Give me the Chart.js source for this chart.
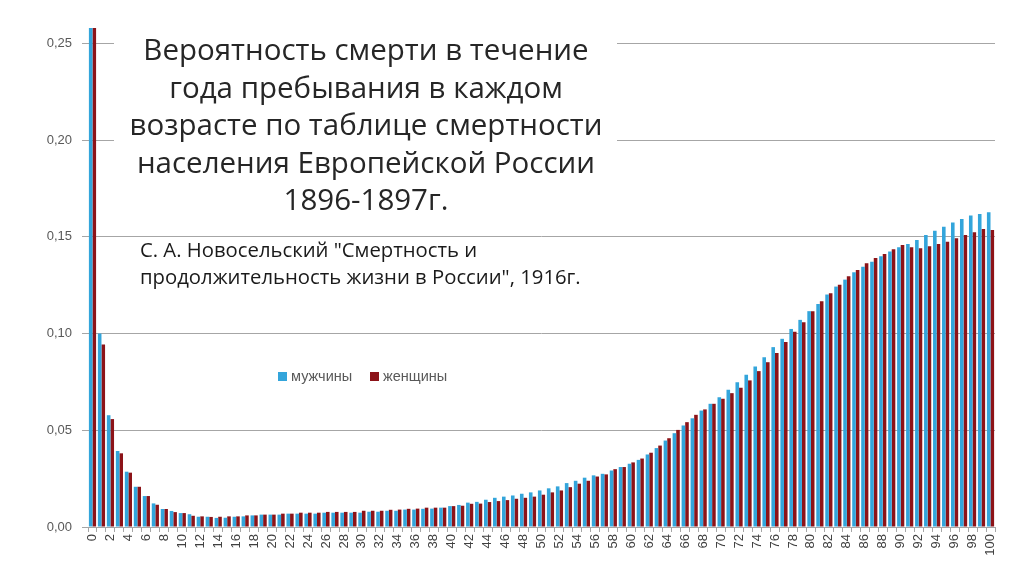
<!DOCTYPE html>
<html>
<head>
<meta charset="utf-8">
<script src="https://cdn.jsdelivr.net/npm/chart.js@4/dist/chart.umd.min.js"></script>
<style>
  body { margin: 0; background: #fff; }
  #wrap { position: relative; width: 1024px; height: 574px; }
  #titlebox { position: absolute; left: 114px; top: 28px; width: 503px; height: 200px; background: #fff; }
  #title { position: absolute; left: 100px; top: 30px; width: 532px; text-align: center;
    font-family: "Open Sans", sans-serif; font-size: 29.5px; line-height: 37.5px; color: #262626; }
  #source { position: absolute; left: 140px; top: 236px;
    font-family: "Open Sans", sans-serif; font-size: 20.3px; line-height: 27px; color: #1a1a1a; }
  #legend { position: absolute; left: 0; top: 368px; font-family: "Liberation Sans", Arial, sans-serif;
    font-size: 14.5px; color: #595959; white-space: nowrap; }
  #legend span.box { display: inline-block; width: 9px; height: 9px; margin-right: 4px; vertical-align: 0px; }
  #legend span.item { position: absolute; top: 0; }
</style>
</head>
<body>
<div id="wrap">
  <canvas id="myChart" width="1024" height="574"></canvas>
  <div id="titlebox"></div>
  <div id="title">Вероятность смерти в течение<br>года пребывания в каждом<br>возрасте по таблице смертности<br>населения Европейской России<br>1896-1897г.</div>
  <div id="source">С. А. Новосельский "Смертность и<br>продолжительность жизни в России", 1916г.</div>
  <div id="legend"></div>
</div>
<script>
var ages = [];
for (var i = 0; i <= 100; i++) ages.push(String(i));

var men = [
  0.30, 0.100, 0.0578, 0.0393, 0.0286, 0.0208, 0.0160, 0.0122, 0.0093, 0.0083,
  0.0072, 0.0066, 0.0053, 0.0053, 0.0047, 0.0048, 0.0053, 0.0055, 0.0060, 0.0064,
  0.0064, 0.0064, 0.0069, 0.0069, 0.0069, 0.0069, 0.0074, 0.0074, 0.0074, 0.0074,
  0.0074, 0.0079, 0.0079, 0.0084, 0.0084, 0.0090, 0.0090, 0.0094, 0.0095, 0.0100,
  0.0108, 0.0114, 0.0126, 0.0130, 0.0141, 0.0151, 0.0157, 0.0163, 0.0172, 0.0179,
  0.0189, 0.0200, 0.0210, 0.0227, 0.0239, 0.0255, 0.0267, 0.0275, 0.0292, 0.0310,
  0.0327, 0.0347, 0.0375, 0.0408, 0.0447, 0.0485, 0.0525, 0.0562, 0.0602, 0.0637,
  0.0671, 0.0709, 0.0749, 0.0787, 0.0830, 0.0878, 0.0930, 0.0973, 0.1024, 0.1071,
  0.1116, 0.1153, 0.1202, 0.1243, 0.1279, 0.1317, 0.1346, 0.1372, 0.1400, 0.1424,
  0.1446, 0.1463, 0.1484, 0.1510, 0.1532, 0.1553, 0.1575, 0.1593, 0.1610, 0.1618,
  0.1627
];

var women = [
  0.28, 0.0944, 0.0558, 0.0381, 0.0281, 0.0208, 0.0160, 0.0115, 0.0093, 0.0077,
  0.0072, 0.0058, 0.0055, 0.0052, 0.0053, 0.0055, 0.0055, 0.0060, 0.0060, 0.0064,
  0.0064, 0.0069, 0.0069, 0.0074, 0.0074, 0.0074, 0.0078, 0.0078, 0.0078, 0.0078,
  0.0084, 0.0084, 0.0084, 0.0089, 0.0090, 0.0094, 0.0095, 0.0100, 0.0100, 0.0100,
  0.0108, 0.0110, 0.0120, 0.0121, 0.0129, 0.0134, 0.0139, 0.0146, 0.0151, 0.0157,
  0.0167, 0.0179, 0.0189, 0.0206, 0.0224, 0.0239, 0.0261, 0.0272, 0.0299, 0.0310,
  0.0334, 0.0354, 0.0384, 0.0421, 0.0459, 0.0502, 0.0542, 0.0580, 0.0608, 0.0637,
  0.0663, 0.0692, 0.0720, 0.0758, 0.0806, 0.0852, 0.0900, 0.0956, 0.1010, 0.1059,
  0.1116, 0.1167, 0.1209, 0.1253, 0.1296, 0.1329, 0.1364, 0.1391, 0.1412, 0.1436,
  0.1458, 0.1446, 0.1441, 0.1451, 0.1463, 0.1475, 0.1493, 0.1510, 0.1524, 0.1541,
  0.1536
];

var yTicks = [0, 0.05, 0.10, 0.15, 0.20, 0.25];

var gridColor = '#a6a6a6';
var textColor = '#595959';

const ctx = document.getElementById('myChart').getContext('2d');
const myChart = new Chart(ctx, {
    type: 'bar',
    data: {
        labels: ages,
        datasets: [{
            label: 'мужчины',
            data: men,
            backgroundColor: '#33a5db',
            categoryPercentage: 0.8,
            barPercentage: 1.0
        }, {
            label: 'женщины',
            data: women,
            backgroundColor: '#8c1318',
            categoryPercentage: 0.8,
            barPercentage: 1.0
        }]
    },
    options: {
        responsive: false,
        animation: false,
        layout: { padding: { top: 28, right: 29, left: 0, bottom: 0 } },
        plugins: {
            legend: { display: false },
            tooltip: { enabled: false }
        },
        scales: {
            x: {
                offset: true,
                grid: { display: true, drawOnChartArea: false, drawTicks: true, tickLength: 5, color: gridColor, offset: true },
                border: { color: gridColor },
                ticks: {
                    autoSkip: false,
                    maxRotation: 90,
                    minRotation: 90,
                    padding: 2,
                    color: '#404040',
                    font: { family: 'Liberation Sans', size: 13 },
                    callback: function(value, index) {
                        return index % 2 == 0 ? this.getLabelForValue(value) : '';
                    }
                },
                afterFit: function(scale) { scale.height = 47; }
            },
            y: {
                min: 0,
                max: 0.258,
                afterBuildTicks: function(scale) {
                    scale.ticks = yTicks.map(v => ({ value: v }));
                },
                grid: { color: gridColor, tickLength: 6 },
                border: { display: false },
                ticks: {
                    padding: 10,
                    color: textColor,
                    font: { family: 'Liberation Sans', size: 13 },
                    callback: function(value) {
                        return value.toFixed(2).replace('.', ',');
                    }
                },
                afterFit: function(scale) { scale.width = 88; }
            }
        }
    }
});

// legend built from the chart datasets
var legendX = [278, 370];
var legendHtml = '';
myChart.data.datasets.forEach((ds, i) => {
    legendHtml += '<span class="item" style="left:' + legendX[i] + 'px"><span class="box" style="background:' + ds.backgroundColor + '"></span>' + ds.label + '</span>';
});
document.getElementById('legend').innerHTML = legendHtml;
</script>
</body>
</html>
